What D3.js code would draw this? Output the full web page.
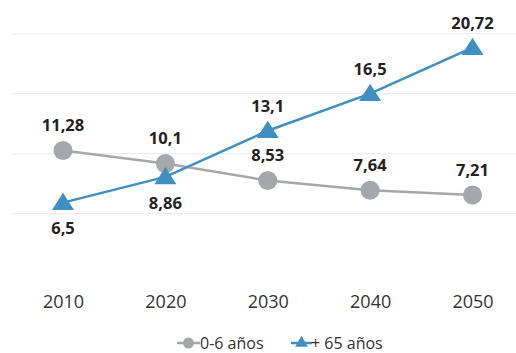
<!DOCTYPE html>
<html><head><meta charset="utf-8">
<script src="https://cdn.jsdelivr.net/npm/d3@7"></script>
<style>html,body{margin:0;padding:0;background:#fff;}svg{display:block;font-family:"Open Sans",sans-serif;}</style>
</head><body>
<svg id="c" width="516" height="353"></svg>
<script>
const years = ["2010","2020","2030","2040","2050"];
const kids = [11.28, 10.1, 8.53, 7.64, 7.21];
const seniors = [6.5, 8.86, 13.1, 16.5, 20.72];
const kidsLabels = ["11,28","10,1","8,53","7,64","7,21"];
const seniorLabels = ["6,5","8,86","13,1","16,5","20,72"];
const seniorLabelPos = ["below","below","above","above","above"];
const gridValues = [5.5, 11, 16.5, 22];
const seriesNames = ["0-6 años", "+ 65 años"];

const grey = "#a5a7aa", blue = "#3f8fc3";
const svg = d3.select("#c");
const x = d3.scalePoint().domain(years).range([63, 472.5]);
const y = d3.scaleLinear().domain([0, 25]).range([273.5, 1]);

// gridlines
svg.append("g").selectAll("line").data(gridValues).join("line")
  .attr("x1", 12).attr("x2", 516)
  .attr("y1", d => y(d)).attr("y2", d => y(d))
  .attr("stroke", "#ededed").attr("stroke-width", 1.2);

// x axis labels
const xAxis = d3.axisBottom(x).tickSize(0).tickPadding(0);
const gx = svg.append("g").attr("transform", "translate(0,308)").call(xAxis);
gx.select(".domain").remove();
gx.selectAll("text").attr("font-size", 18).attr("fill", "#333")
  .attr("font-family", "Open Sans, sans-serif").attr("dy", 0);

const tri = d3.symbol().type(d3.symbolTriangle).size(190);

const line = d3.line().x((d,i) => x(years[i])).y(d => y(d));
svg.append("path").datum(kids).attr("d", line).attr("fill", "none")
  .attr("stroke", grey).attr("stroke-width", 2.5);
svg.append("path").datum(seniors).attr("d", line).attr("fill", "none")
  .attr("stroke", blue).attr("stroke-width", 2.5);

svg.append("g").selectAll("circle").data(kids).join("circle")
  .attr("cx", (d,i) => x(years[i])).attr("cy", d => y(d)).attr("r", 9.5)
  .attr("fill", grey);
svg.append("g").selectAll("path").data(seniors).join("path")
  .attr("d", tri)
  .attr("transform", (d,i) => `translate(${x(years[i])},${y(d)+1.5}) scale(1.05,0.95)`)
  .attr("fill", blue);

// labels
const lab = svg.append("g").attr("font-weight", 700).attr("font-size", 16.5)
  .attr("fill", "#222").attr("text-anchor", "middle");
lab.selectAll("text.k").data(kids).join("text").attr("class","k")
  .attr("x", (d,i) => x(years[i])).attr("y", d => y(d) - 25).attr("dy", "0.35em")
  .text((d,i) => kidsLabels[i]);
lab.selectAll("text.s").data(seniors).join("text").attr("class","s")
  .attr("x", (d,i) => x(years[i]))
  .attr("y", (d,i) => y(d) + (seniorLabelPos[i] === "below" ? 26 : -24)).attr("dy", "0.35em")
  .text((d,i) => seniorLabels[i]);

// legend
const lg = svg.append("g").attr("transform", "translate(0,343)");
lg.append("line").attr("x1", 177).attr("x2", 200).attr("stroke", grey).attr("stroke-width", 2.5);
lg.append("circle").attr("cx", 188.5).attr("r", 5.5).attr("fill", grey);
lg.append("text").attr("x", 200).attr("dy", "0.35em").attr("font-size", 16).attr("fill", "#333").text(seriesNames[0]);
lg.append("line").attr("x1", 291).attr("x2", 312).attr("stroke", blue).attr("stroke-width", 2.5);
lg.append("path").attr("d", d3.symbol().type(d3.symbolTriangle).size(70)).attr("transform","translate(301.5,0)").attr("fill", blue);
lg.append("text").attr("x", 311).attr("dy", "0.35em").attr("font-size", 16).attr("fill", "#333").text(seriesNames[1]);
</script>
</body></html>
